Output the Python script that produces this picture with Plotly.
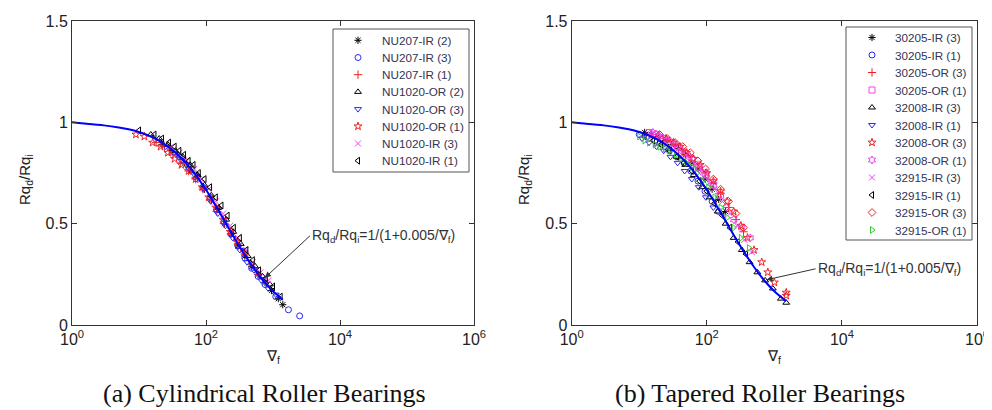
import plotly.graph_objects as go

# ---------------- Panel (a): Cylindrical roller bearings ----------------
a_names = ["NU207-IR (2)", "NU207-IR (3)", "NU207-IR (1)", "NU1020-OR (2)",
           "NU1020-OR (3)", "NU1020-OR (1)", "NU1020-IR (3)", "NU1020-IR (1)"]

a1_x = [22, 30, 38, 48, 60, 75, 95, 120, 150, 190, 240, 300, 380, 480, 600, 760, 950, 1200, 1400]
a1_y = [0.89, 0.86, 0.84, 0.80, 0.76, 0.73, 0.67, 0.62, 0.57, 0.50, 0.45, 0.39, 0.34, 0.29, 0.25, 0.21, 0.17, 0.13, 0.10]
a2_x = [40, 55, 70, 90, 115, 145, 185, 235, 300, 380, 480, 600, 760, 1100, 1700, 2500]
a2_y = [0.83, 0.78, 0.74, 0.68, 0.63, 0.57, 0.51, 0.45, 0.39, 0.33, 0.28, 0.24, 0.20, 0.14, 0.075, 0.045]
a3_x = [18, 24, 32, 42, 55, 70, 90, 115, 145, 185, 235, 300, 380, 480, 600]
a3_y = [0.90, 0.88, 0.84, 0.80, 0.76, 0.72, 0.67, 0.62, 0.56, 0.50, 0.45, 0.40, 0.35, 0.30, 0.25]
a4_x = [15, 20, 27, 35, 45, 58, 75, 95, 120, 155, 200, 255, 330, 420, 540, 700, 900]
a4_y = [0.94, 0.92, 0.89, 0.86, 0.83, 0.79, 0.74, 0.69, 0.64, 0.58, 0.52, 0.46, 0.40, 0.34, 0.29, 0.24, 0.20]
a5_x = [25, 33, 43, 56, 72, 92, 118, 150, 195, 250, 320, 410, 520, 670, 850, 1100]
a5_y = [0.88, 0.85, 0.81, 0.77, 0.72, 0.67, 0.61, 0.55, 0.49, 0.43, 0.37, 0.31, 0.27, 0.22, 0.18, 0.15]
a6_x = [9, 12, 16, 21, 27, 34, 43, 55, 70, 88, 110, 140, 180, 230, 290, 370]
a6_y = [0.94, 0.93, 0.90, 0.88, 0.85, 0.82, 0.79, 0.76, 0.72, 0.68, 0.63, 0.58, 0.52, 0.46, 0.41, 0.36]
a7_x = [30, 40, 52, 67, 85, 110, 140, 180, 230, 300, 390, 500, 650, 850]
a7_y = [0.88, 0.85, 0.81, 0.77, 0.72, 0.67, 0.61, 0.55, 0.49, 0.43, 0.37, 0.31, 0.26, 0.22]
a8_x = [10, 17, 22, 28, 34, 40, 47, 55, 65, 78, 95, 115, 140, 170, 210, 260, 320, 400, 500, 620, 780, 1000, 1300]
a8_y = [0.96, 0.94, 0.92, 0.90, 0.88, 0.86, 0.84, 0.81, 0.79, 0.75, 0.72, 0.68, 0.63, 0.59, 0.54, 0.48, 0.43, 0.37, 0.32, 0.27, 0.23, 0.19, 0.14]

# ---------------- Panel (b): Tapered roller bearings ----------------
b_names = ["30205-IR (3)", "30205-IR (1)", "30205-OR (3)", "30205-OR (1)",
           "32008-IR (3)", "32008-IR (1)", "32008-OR (3)", "32008-OR (1)",
           "32915-IR (3)", "32915-IR (1)", "32915-OR (3)", "32915-OR (1)"]

b1_x = [12, 15, 19, 24, 30, 38, 48, 60, 75, 95, 120, 150, 190]
b1_y = [0.95, 0.94, 0.93, 0.91, 0.89, 0.87, 0.84, 0.80, 0.77, 0.72, 0.67, 0.62, 0.56]
b2_x = [10, 13, 17, 22, 28, 36, 46, 58, 74, 94, 120, 150]
b2_y = [0.94, 0.93, 0.91, 0.89, 0.86, 0.83, 0.80, 0.76, 0.71, 0.66, 0.61, 0.56]
b3_x = [15, 20, 26, 34, 44, 57, 74, 96, 125, 160, 210, 270, 350]
b3_y = [0.94, 0.93, 0.91, 0.89, 0.86, 0.83, 0.79, 0.75, 0.70, 0.65, 0.58, 0.52, 0.46]
b4_x = [14, 18, 23, 29, 37, 47, 60, 76, 97, 125, 160]
b4_y = [0.95, 0.94, 0.92, 0.90, 0.88, 0.85, 0.82, 0.78, 0.74, 0.69, 0.64]
b5_x = [20, 27, 36, 48, 64, 85, 110, 145, 190, 250, 330, 430, 560, 730, 950, 1250, 1500]
b5_y = [0.90, 0.87, 0.83, 0.79, 0.74, 0.68, 0.63, 0.56, 0.50, 0.43, 0.37, 0.31, 0.26, 0.22, 0.18, 0.13, 0.11]
b6_x = [11, 14, 18, 23, 29, 37, 47, 60, 76, 97, 125]
b6_y = [0.92, 0.90, 0.88, 0.86, 0.83, 0.80, 0.76, 0.72, 0.68, 0.63, 0.58]
b7_x = [25, 32, 40, 50, 63, 80, 100, 125, 160, 200, 250, 320, 400, 500, 650, 800, 1000, 1500, 1500]
b7_y = [0.92, 0.90, 0.88, 0.85, 0.82, 0.79, 0.75, 0.71, 0.66, 0.61, 0.56, 0.49, 0.43, 0.37, 0.31, 0.26, 0.21, 0.16, 0.145]
b8_x = [16, 20, 26, 33, 42, 54, 70, 90, 115, 150, 195, 250, 330, 440]
b8_y = [0.95, 0.93, 0.91, 0.89, 0.86, 0.83, 0.79, 0.75, 0.70, 0.64, 0.58, 0.52, 0.48, 0.43]
b9_x = [18, 23, 30, 38, 49, 63, 80, 100, 130, 170, 220, 280, 360, 460]
b9_y = [0.94, 0.92, 0.90, 0.87, 0.84, 0.81, 0.77, 0.72, 0.67, 0.61, 0.55, 0.49, 0.42, 0.36]
b10_x = [12, 16, 21, 28, 36, 46, 60, 78, 100, 130, 170, 220, 290, 380]
b10_y = [0.93, 0.91, 0.89, 0.86, 0.83, 0.80, 0.76, 0.71, 0.66, 0.60, 0.54, 0.48, 0.41, 0.35]
b11_x = [20, 26, 34, 44, 57, 74, 96, 125, 160, 210, 270, 350]
b11_y = [0.94, 0.92, 0.90, 0.88, 0.85, 0.81, 0.77, 0.72, 0.67, 0.61, 0.55, 0.48]
b12_x = [10, 12, 14, 17, 20, 24, 29, 35, 42, 50, 60, 72, 87, 105, 130, 160, 200, 250, 320, 420]
b12_y = [0.93, 0.91, 0.90, 0.89, 0.88, 0.87, 0.86, 0.84, 0.82, 0.80, 0.78, 0.75, 0.71, 0.68, 0.63, 0.58, 0.53, 0.48, 0.43, 0.38]

# ---------------- Fitted curve ----------------
fit_a_x = [1, 2, 3, 5, 7, 10, 15, 20, 30, 50, 70, 100, 150, 200, 300, 500, 700, 1000, 1400]
fit_a_y = [1.0, 0.99, 0.985, 0.975, 0.966, 0.952, 0.93, 0.909, 0.87, 0.80, 0.741, 0.667, 0.571, 0.50, 0.40, 0.286, 0.222, 0.167, 0.125]
fit_b_x = [1, 2, 3, 5, 7, 10, 15, 20, 30, 50, 70, 100, 150, 200, 300, 500, 700, 1000, 1500]
fit_b_y = [1.0, 0.99, 0.985, 0.975, 0.966, 0.952, 0.93, 0.909, 0.87, 0.80, 0.741, 0.667, 0.571, 0.50, 0.40, 0.286, 0.222, 0.167, 0.118]

x_tickvals = [1, 100, 10000, 1000000]
x_ticktext = ["10<sup>0</sup>", "10<sup>2</sup>", "10<sup>4</sup>", "10<sup>6</sup>"]
y_tickvals = [0, 0.5, 1, 1.5]
y_ticktext = ["0", "0.5", "1", "1.5"]

BLACK = "#000000"
BLUE = "#2a2af0"
RED = "#f02020"
MAG = "#ee44ee"
GREEN = "#33cc33"

a_styles = [("asterisk-open", BLACK), ("circle-open", BLUE), ("cross-thin-open", RED),
            ("triangle-up-open", BLACK), ("triangle-down-open", BLUE), ("star-open", RED),
            ("x-thin-open", MAG), ("triangle-left-open", BLACK)]
b_styles = [("asterisk-open", BLACK), ("circle-open", BLUE), ("cross-thin-open", RED),
            ("square-open", MAG), ("triangle-up-open", BLACK), ("triangle-down-open", BLUE),
            ("star-open", RED), ("hexagram-open", MAG), ("x-thin-open", MAG),
            ("triangle-left-open", BLACK), ("diamond-open", RED), ("triangle-right-open", GREEN)]

a_data = [(a1_x, a1_y), (a2_x, a2_y), (a3_x, a3_y), (a4_x, a4_y),
          (a5_x, a5_y), (a6_x, a6_y), (a7_x, a7_y), (a8_x, a8_y)]
b_data = [(b1_x, b1_y), (b2_x, b2_y), (b3_x, b3_y), (b4_x, b4_y), (b5_x, b5_y), (b6_x, b6_y),
          (b7_x, b7_y), (b8_x, b8_y), (b9_x, b9_y), (b10_x, b10_y), (b11_x, b11_y), (b12_x, b12_y)]

# ---------------- layout geometry (screen pixels; page body adds an 8px offset) ----------------
OFF = 8
W, H = 992 - OFF, 410 - OFF
PL, PR, PT, PB = 72, 977, 21, 325          # plot box in screen pixels
L, R, T, B = PL - OFF, W - (PR - OFF), PT - OFF, H - (PB - OFF)
IW, IH = W - L - R, H - T - B


def px(x):
    return (x - PL) / IW


def py(y):
    return (PB - y) / IH


fig = go.Figure()

MS = 6
for name, (xs, ys), (sym, col) in zip(a_names, a_data, a_styles):
    fig.add_trace(go.Scatter(x=xs, y=ys, mode="markers", name=name, showlegend=False,
                             marker=dict(symbol=sym, size=MS, color=col, line=dict(width=1, color=col)),
                             xaxis="x", yaxis="y"))
fig.add_trace(go.Scatter(x=fit_a_x, y=fit_a_y, mode="lines", line=dict(color="#0000ff", width=2, shape="spline"),
                         showlegend=False, xaxis="x", yaxis="y"))

for name, (xs, ys), (sym, col) in zip(b_names, b_data, b_styles):
    fig.add_trace(go.Scatter(x=xs, y=ys, mode="markers", name=name, showlegend=False,
                             marker=dict(symbol=sym, size=MS, color=col, line=dict(width=1, color=col)),
                             xaxis="x2", yaxis="y2"))
fig.add_trace(go.Scatter(x=fit_b_x, y=fit_b_y, mode="lines", line=dict(color="#0000ff", width=2, shape="spline"),
                         showlegend=False, xaxis="x2", yaxis="y2"))

# ---------------- legends (drawn on a hidden pixel-unit overlay axis) ----------------
LEGFONT = dict(family="Liberation Sans, Arial, sans-serif", size=11.7, color="#333355")
shapes = []
ann = []


def add_legend(names, styles, box, sym_x, text_x, row0, step):
    x0, y0, x1, y1 = box
    shapes.append(dict(type="rect", xref="x3", yref="y3", x0=x0, y0=y0, x1=x1, y1=y1,
                       line=dict(color="#555", width=1), fillcolor="white", layer="below"))
    rows = [row0 + step * i for i in range(len(names))]
    fig.add_trace(go.Scatter(x=[sym_x] * len(names), y=rows, mode="markers", showlegend=False,
                             hoverinfo="skip", cliponaxis=False,
                             marker=dict(symbol=[s for s, _ in styles], size=MS,
                                         color=[c for _, c in styles],
                                         line=dict(width=1, color=[c for _, c in styles])),
                             xaxis="x3", yaxis="y3"))
    for n, r in zip(names, rows):
        ann.append(dict(text=n, x=text_x, y=r, xref="x3", yref="y3", xanchor="left", yanchor="middle",
                        showarrow=False, font=LEGFONT))


add_legend(a_names, a_styles, (333, 29, 469, 172), 358, 380, 40.3, 17.2)
add_legend(b_names, b_styles, (846, 27, 972, 240), 872, 893, 37.5, 17.5)

TICKFONT = dict(family="Liberation Sans, Arial, sans-serif", size=16, color="#222222")
common_x = dict(type="log", range=[0, 6], tickvals=x_tickvals, ticktext=x_ticktext, automargin=False,
                ticks="inside", ticklen=5, tickcolor="#333", showline=True, linecolor="#333",
                linewidth=1, mirror="ticks", showgrid=False, zeroline=False, tickfont=TICKFONT)
common_y = dict(range=[0, 1.5], tickvals=y_tickvals, ticktext=y_ticktext, automargin=False,
                ticks="inside", ticklen=5, tickcolor="#333", showline=True, linecolor="#333",
                linewidth=1, mirror="ticks", showgrid=False, zeroline=False, tickfont=TICKFONT)

fig.update_layout(
    width=W, height=H,
    margin=dict(l=L, r=R, t=T, b=B),
    paper_bgcolor="white", plot_bgcolor="rgba(0,0,0,0)",
    xaxis=dict(domain=[0, px(474)], anchor="y", **common_x),
    yaxis=dict(domain=[0, 1], anchor="x", **common_y),
    xaxis2=dict(domain=[px(571.7), 1], anchor="y2", **common_x),
    yaxis2=dict(domain=[0, 1], anchor="x2", **common_y),
    xaxis3=dict(domain=[0, 1], anchor="y3", range=[PL, PR], visible=False, fixedrange=True),
    yaxis3=dict(domain=[0, 1], anchor="x3", range=[PB, PT], visible=False, fixedrange=True),
    showlegend=False,
)

LABFONT = dict(family="Liberation Sans, Arial, sans-serif", size=15, color="#222222")
CAPFONT = dict(family="Liberation Serif, DejaVu Serif, serif", size=26, color="#111111")


def label(text, x, y, font, angle=0):
    ann.append(dict(text=text, x=px(x), y=py(y), xref="paper", yref="paper", xanchor="center",
                    yanchor="middle", textangle=angle, showarrow=False, font=font))


label("∇<sub>f</sub>", 273, 357, LABFONT)
label("∇<sub>f</sub>", 774, 357, LABFONT)
label("Rq<sub>d</sub>/Rq<sub>i</sub>", 25, 180, LABFONT, -90)
label("Rq<sub>d</sub>/Rq<sub>i</sub>", 524, 180, LABFONT, -90)
label("(a) Cylindrical Roller Bearings", 264, 393, CAPFONT)
label("(b) Tapered Roller Bearings", 760, 393, CAPFONT)

formula = "Rq<sub>d</sub>/Rq<sub>i</sub>=1/(1+0.005/∇<sub>f</sub>)"
ann.append(dict(text=formula, x=2.88, y=0.233, xref="x", yref="y", ax=45, ay=-42,
                xanchor="left", showarrow=True, arrowhead=2, arrowsize=1.2, arrowwidth=1,
                arrowcolor="#333", font=dict(family="Liberation Sans, Arial, sans-serif", size=14, color="#333")))
ann.append(dict(text=formula, x=2.885, y=0.223, xref="x2", yref="y2", ax=49, ay=-11,
                xanchor="left", showarrow=True, arrowhead=2, arrowsize=1.2, arrowwidth=1,
                arrowcolor="#333", font=dict(family="Liberation Sans, Arial, sans-serif", size=14, color="#333")))
fig.update_layout(annotations=ann, shapes=shapes)

fig.write_html("out.html")
